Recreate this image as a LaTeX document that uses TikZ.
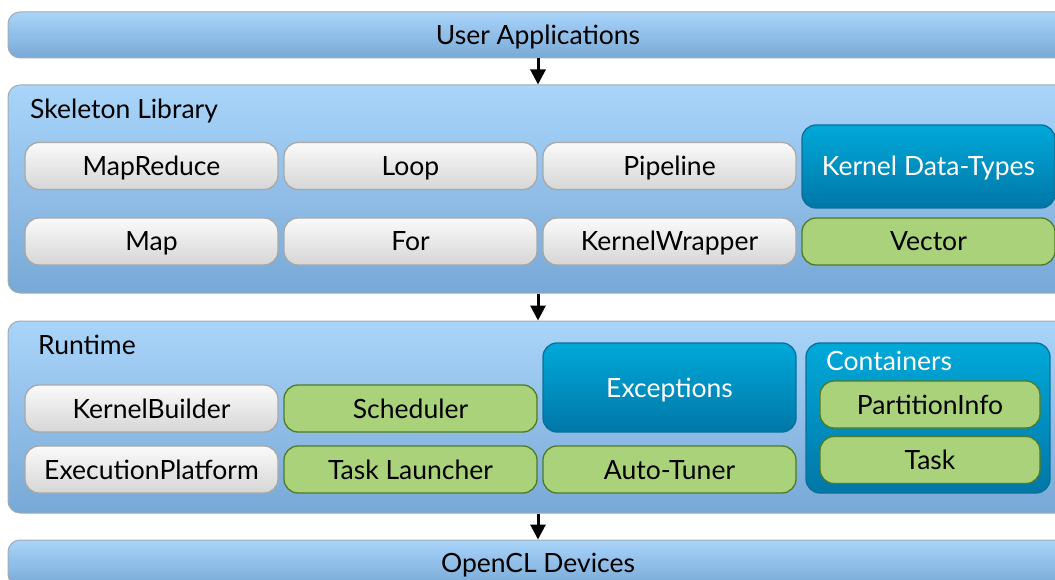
\documentclass[tikz,border=0pt]{standalone}
\usepackage{fontspec}
\setmainfont{Lato}
\usetikzlibrary{arrows.meta}

\definecolor{panelTop}{HTML}{A9D5FA}
\definecolor{panelBot}{HTML}{78A8D6}
\definecolor{panelEdge}{HTML}{A3ABB3}
\definecolor{greyTop}{HTML}{FAFAFA}
\definecolor{greyBot}{HTML}{D6D6D6}
\definecolor{greyEdge}{HTML}{A8A8A8}
\definecolor{leafFill}{HTML}{A9D27B}
\definecolor{leafEdge}{HTML}{4F7B22}
\definecolor{tealTop}{HTML}{00A9D9}
\definecolor{tealBot}{HTML}{0077A7}
\definecolor{tealEdge}{HTML}{0B6F9C}

\tikzset{
  bigtext/.style={font=\fontsize{26.5}{30}\selectfont, text height=19pt, text depth=0pt},
  layer/.style={draw=panelEdge, line width=1pt, rounded corners=12pt,
    top color=panelTop, bottom color=panelBot, minimum width=1060pt,
    inner sep=0pt, bigtext},
  cell/.style={line width=1.3pt, rounded corners=14pt, minimum width=253pt,
    minimum height=47pt, inner sep=0pt, bigtext},
  greycell/.style={cell, draw=greyEdge, top color=greyTop, bottom color=greyBot},
  leafcell/.style={cell, draw=leafEdge, fill=leafFill},
  tealcell/.style={cell, draw=tealEdge, top color=tealTop, bottom color=tealBot,
    text=white},
  caption/.style={anchor=west, inner sep=0pt, bigtext},
  flow/.style={line width=3pt, -{Triangle[length=15pt,width=15pt]}}
}

\begin{document}
\begin{tikzpicture}[x=1pt,y=-1pt]
\path[use as bounding box] (0,0) rectangle (1055,580);
\clip (0,0) rectangle (1055,580);

% layers
\node[layer, minimum height=46pt] (apps) at (538,35) {User Applications};
\node[layer, minimum height=208pt] (skel) at (538,189) {};
\node[layer, minimum height=192pt] (rt) at (538,417) {};
\node[layer, minimum height=46pt] (dev) at (538,563) {};
\node[bigtext, inner sep=0pt] (devtext) at (538,563) {OpenCL Devices};

\node[caption] (skeltitle) at (30,109) {Skeleton Library};
\node[caption] (rttitle) at (38,345) {Runtime};

% skeleton library
\node[greycell] (mapreduce) at (151.5,166) {MapReduce};
\node[greycell] (loop) at (410.5,166) {Loop};
\node[greycell] (pipeline) at (669.5,166) {Pipeline};
\node[tealcell, minimum height=83pt] (kdt) at (928.5,166.5) {Kernel Data-Types};
\node[greycell] (map) at (151.5,241.5) {Map};
\node[greycell] (for) at (410.5,241.5) {For};
\node[greycell] (kwrap) at (669.5,241.5) {KernelWrapper};
\node[leafcell] (vector) at (928.5,241.5) {Vector};

% runtime
\node[greycell] (kbuild) at (151.5,408.5) {KernelBuilder};
\node[leafcell] (sched) at (410.5,408.5) {Scheduler};
\node[tealcell, minimum height=89pt] (exc) at (669.5,387.5) {Exceptions};
\node[greycell] (execp) at (151.5,469.5) {ExecutionPlatform};
\node[leafcell] (launch) at (410.5,469.5) {Task Launcher};
\node[leafcell] (tuner) at (669.5,469.5) {Auto-Tuner};
\node[tealcell, minimum width=244pt, minimum height=150pt] (cont) at (928,418) {};
\node[caption, text=white] (conttitle) at (826,361) {Containers};
\node[leafcell, minimum width=220pt] (pinfo) at (930,404.5) {PartitionInfo};
\node[leafcell, minimum width=220pt] (task) at (930,460) {Task};

% flow between layers
\draw[flow] (apps.south) -- (skel.north);
\draw[flow] (skel.south) -- (rt.north);
\draw[flow] (rt.south) -- (dev.north);
\end{tikzpicture}
\end{document}
